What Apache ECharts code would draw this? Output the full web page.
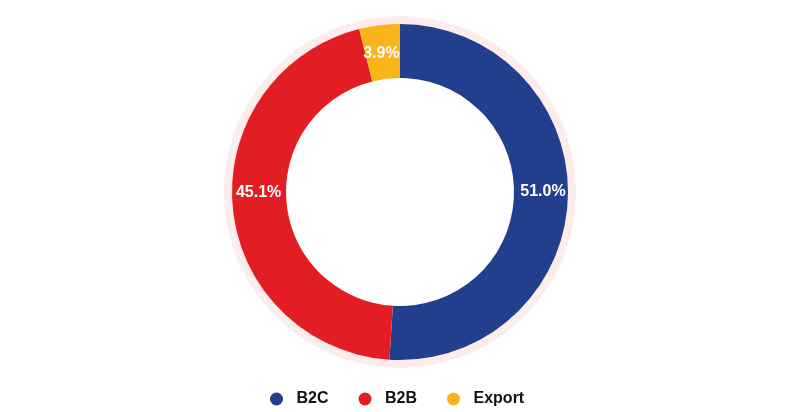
<!DOCTYPE html>
<html>
<head>
<meta charset="utf-8">
<script src="https://cdn.jsdelivr.net/npm/echarts@6/dist/echarts.min.js"></script>
<style>
html,body{margin:0;padding:0;background:#fff;}
#chart{width:800px;height:412px;}
</style>
</head>
<body>
<div id="chart"></div>
<script>
const categories = ['B2C', 'B2B', 'Export'];
const values = [51.0, 45.1, 3.9];
const colors = ['#223F8E', '#E31D24', '#F8B51A'];

const chart = echarts.init(document.getElementById('chart'), null, {renderer: 'canvas'});
const FONT = '"Liberation Sans", Arial, Helvetica, sans-serif';
// small label nudges to match reference placement
const labelNudge = [[-1, -5], [2, -13], [-1, 5]];

chart.setOption({
  animation: false,
  color: colors,
  legend: {
    data: categories,
    bottom: 0,
    left: 265,
    icon: 'circle',
    itemWidth: 30,
    itemHeight: 13,
    itemGap: 30,
    textStyle: {fontFamily: FONT, fontSize: 16, fontWeight: 'bold', color: '#111'}
  },
  series: [
    {
      type: 'pie',
      silent: true,
      center: [400, 192],
      radius: [166, 176],
      z: 1,
      label: {show: false},
      labelLine: {show: false},
      itemStyle: {color: '#FDECEC'},
      data: [{name: 'ring', value: 1}]
    },
    {
      type: 'pie',
      center: [400, 192],
      radius: [114, 168],
      startAngle: 90,
      clockwise: true,
      z: 2,
      label: {
        show: true,
        position: 'inside',
        formatter: p => p.value.toFixed(1) + '%',
        color: '#fff',
        fontFamily: FONT,
        fontSize: 16,
        fontWeight: 'bold'
      },
      labelLine: {show: false},
      data: categories.map((c, i) => ({
        name: c,
        value: values[i],
        label: {offset: labelNudge[i]}
      }))
    }
  ]
});
</script>
</body>
</html>
